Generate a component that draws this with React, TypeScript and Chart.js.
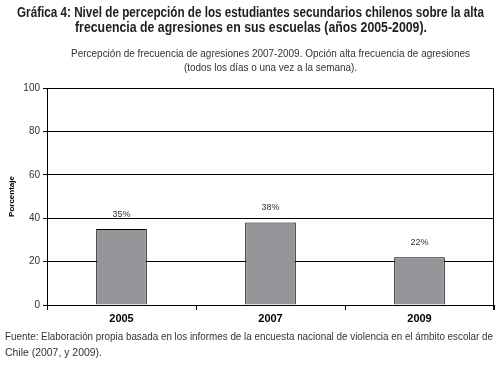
import React, { useEffect, useLayoutEffect, useRef } from "react";
import { Chart, registerables } from "chart.js";
Chart.register(...registerables);

const categories = ["2005", "2007", "2009"];
const values = [35, 38, 22];
const valueLabels = ["35%", "38%", "22%"];
const yMin = 0;
const yMax = 100;
const yStep = 20;

const titleLine1 = "Gráfica 4: Nivel de percepción de los estudiantes secundarios chilenos sobre la alta";
const titleLine2 = "frecuencia de agresiones en sus escuelas (años 2005-2009).";
const subLine1 = "Percepción de frecuencia de agresiones 2007-2009. Opción alta frecuencia de agresiones";
const subLine2 = "(todos los días o una vez a la semana).";
const footLine1 = "Fuente: Elaboración propia basada en los informes de la encuesta nacional de violencia en el ámbito escolar de";
const footLine2 = "Chile (2007, y 2009).";
const yTitle = "Porcentaje";

const FONT = "'Liberation Sans', Arial, sans-serif";

function FitText(props: { text: string; left: number; top: number; width: number; size: number; bold?: boolean; color: string }) {
  const ref = useRef<HTMLSpanElement | null>(null);
  useLayoutEffect(() => {
    const el = ref.current;
    if (!el) return;
    el.style.transform = "none";
    const w = el.getBoundingClientRect().width;
    if (w > 0) el.style.transform = `scaleX(${props.width / w})`;
  }, [props.text, props.width]);
  return (
    <span
      ref={ref}
      style={{
        position: "absolute",
        left: props.left,
        top: props.top,
        whiteSpace: "nowrap",
        fontFamily: FONT,
        fontSize: props.size,
        fontWeight: props.bold ? "bold" : "normal",
        color: props.color,
        lineHeight: "16px",
        transformOrigin: "0 0",
        display: "inline-block",
      }}
    >
      {props.text}
    </span>
  );
}

export default function App() {
  const ref = useRef<HTMLCanvasElement | null>(null);
  useEffect(() => {
    if (!ref.current) return;
    const annot = {
      id: "annot",
      afterDatasetsDraw(chart: any) {
        const { ctx, chartArea } = chart;
        const meta = chart.getDatasetMeta(0);
        ctx.save();
        ctx.font = "9px " + FONT;
        ctx.fillStyle = "#333";
        ctx.textAlign = "center";
        ctx.textBaseline = "middle";
        meta.data.forEach((el: any, i: number) => {
          ctx.fillText(valueLabels[i], el.x, el.y - 15);
        });
        ctx.strokeStyle = "#000";
        ctx.lineWidth = 1;
        const x = Math.round(chartArea.right) - 0.5;
        ctx.beginPath();
        ctx.moveTo(x, chartArea.top);
        ctx.lineTo(x, chartArea.bottom + 5);
        ctx.stroke();
        ctx.restore();
      },
    };
    const chart = new Chart(ref.current, {
      type: "bar",
      data: {
        labels: categories,
        datasets: [
          {
            data: values,
            backgroundColor: "#969599",
            borderColor: "#000",
            borderWidth: 1,
            barPercentage: 0.34,
            categoryPercentage: 1,
          },
        ],
      },
      options: {
        responsive: false,
        animation: false,
        devicePixelRatio: 1,
        layout: { padding: { left: 0, right: 9, top: 88, bottom: 45 } },
        plugins: { legend: { display: false }, tooltip: { enabled: false }, title: { display: false } },
        scales: {
          x: {
            grid: { offset: true, drawOnChartArea: false, drawTicks: true, tickLength: 5, color: "#000" },
            border: { display: true, color: "#000" },
            ticks: { font: { family: FONT, size: 11, weight: "bold" }, color: "#000", padding: 2 },
            afterFit: (s: any) => { s.height = 20; },
          },
          y: {
            min: yMin,
            max: yMax,
            ticks: { stepSize: yStep, font: { family: FONT, size: 10 }, color: "#333", padding: 3 },
            grid: { color: "#000", lineWidth: 1, tickLength: 4 },
            border: { display: true, color: "#000" },
            title: { display: true, text: yTitle, font: { family: FONT, size: 8, weight: "bold" }, color: "#000", padding: { top: 7, bottom: 0 } },
            afterFit: (s: any) => { s.width = 47; },
          },
        },
      },
      plugins: [annot],
    } as any);
    return () => chart.destroy();
  }, []);

  return (
    <div style={{ position: "fixed", left: 0, top: 0, width: 503, height: 370, background: "#fff", overflow: "hidden" }}>
      <canvas ref={ref} width={503} height={370} style={{ position: "absolute", left: 0, top: 0, width: 503, height: 370 }} />
      <FitText text={titleLine1} left={17} top={4} width={467} size={14} bold color="#1e1e1e" />
      <FitText text={titleLine2} left={75} top={19} width={352} size={14} bold color="#1e1e1e" />
      <FitText text={subLine1} left={71} top={45} width={399} size={11} color="#333" />
      <FitText text={subLine2} left={184} top={59} width={173} size={11} color="#333" />
      <FitText text={footLine1} left={5} top={328} width={488} size={11.5} color="#333" />
      <FitText text={footLine2} left={5} top={344} width={97} size={11.5} color="#333" />
    </div>
  );
}
